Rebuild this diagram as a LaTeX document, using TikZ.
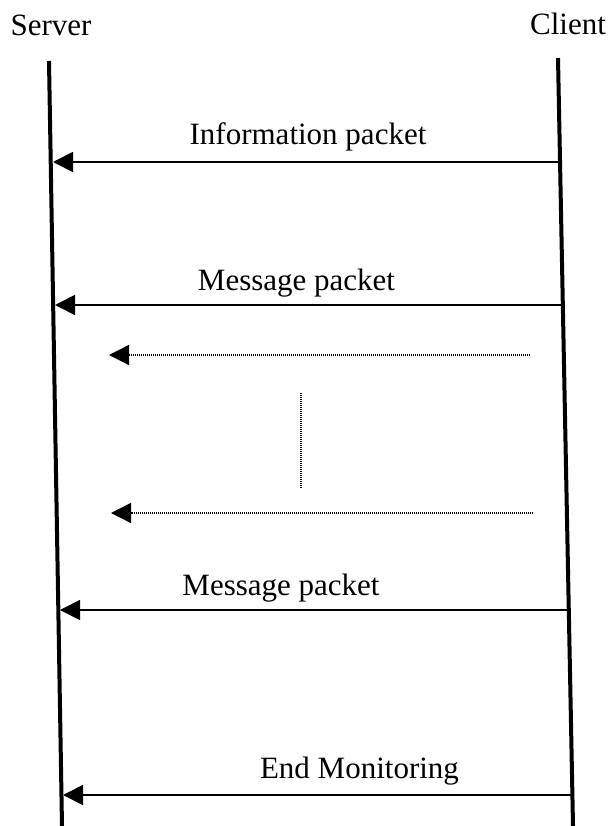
\documentclass[tikz,border=0pt]{standalone}
\usepackage{fontspec}
\setmainfont{Liberation Serif}
\usetikzlibrary{arrows.meta}
\begin{document}
\begin{tikzpicture}[x=1pt,y=-1pt,
  lifeline/.style={line width=4pt},
  msg/.style={line width=1.8pt,-{Triangle[length=20pt,width=20pt]}},
  dotmsg/.style={line width=1.3pt,dash pattern=on 1pt off 1pt,
    -{Triangle[length=20pt,width=20pt]}},
  dotline/.style={line width=1.3pt,dash pattern=on 1pt off 1pt},
  actor/.style={font=\fontsize{31}{36}\selectfont,inner sep=0pt,anchor=base},
  lbl/.style={font=\fontsize{31}{36}\selectfont,inner sep=0pt,anchor=base}]
\useasboundingbox (0,0) rectangle (609,826);

% participants
\node[actor] (server) at (51,36) {Server};
\node[actor] (client) at (568,35) {Client};

% lifelines
\coordinate (stop) at (49,61);
\coordinate (sbot) at (62,826);
\coordinate (ctop) at (558,58);
\coordinate (cbot) at (573,826);
\draw[lifeline] (stop) -- (sbot);
\draw[lifeline] (ctop) -- (cbot);

% message end points on the lifelines
\coordinate (c1) at (560,162);   \coordinate (s1) at (53,162);
\coordinate (c2) at (563,305);   \coordinate (s2) at (55,305);
\coordinate (c3) at (530,355);   \coordinate (s3) at (109,355);
\coordinate (c4) at (533,513);   \coordinate (s4) at (111,513);
\coordinate (c5) at (569,610);   \coordinate (s5) at (60,610);
\coordinate (c6) at (572,795);   \coordinate (s6) at (63,795);
\coordinate (vtop) at (301,393); \coordinate (vbot) at (301,489);

% messages
\draw[msg] (c1) -- (s1);
\node[lbl] (info) at (308,145) {Information packet};

\draw[msg] (c2) -- (s2);
\node[lbl] (msgA) at (296.5,290) {Message packet};

\draw[dotmsg] (c3) -- (s3);
\draw[dotline] (vtop) -- (vbot);
\draw[dotmsg] (c4) -- (s4);

\draw[msg] (c5) -- (s5);
\node[lbl] (msgB) at (281,595) {Message packet};

\draw[msg] (c6) -- (s6);
\node[lbl] (endmon) at (359.5,778) {End Monitoring};
\end{tikzpicture}
\end{document}
